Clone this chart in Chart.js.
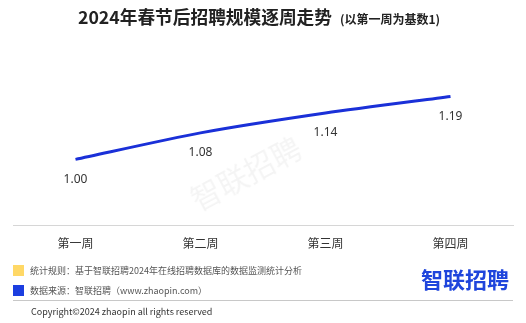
<!DOCTYPE html>
<html>
<head>
<meta charset="utf-8">
<script src="https://cdn.jsdelivr.net/npm/chart.js@4/dist/chart.umd.min.js"></script>
<style>
  html, body { margin: 0; padding: 0; background: #fff; }
  body { width: 526px; height: 323px; position: relative; overflow: hidden;
         font-family: "Noto Sans CJK SC", "Noto Sans", sans-serif; color: #333; }
  #wrap { position: absolute; left: 0; top: 0; width: 526px; height: 323px; }
  .abs { position: absolute; white-space: nowrap; }
  #title { left: 78px; top: 3px; font-size: 17.7px; font-weight: 700; color: #222; }
  #title small { font-size: 12px; font-weight: 700; margin-left: 8px; }
  .sq { position: absolute; width: 11px; height: 11px; }
  .leg { font-size: 9px; color: #555; }
  #logo { left: 421px; top: 262px; font-size: 22px; font-weight: 700; color: #1f45dc; }
  #rule { position: absolute; left: 13px; top: 300px; width: 500px; height: 1px; background: #c8c8c8; }
  #copy { left: 31px; top: 305px; font-size: 9px; color: #333; }
  #wm { left: 192px; top: 178px; font-size: 30px; color: rgba(0,0,0,0.045); transform: rotate(-28deg); transform-origin: left center; }
</style>
</head>
<body>
<div id="wrap"><canvas id="trendChart" width="526" height="323"></canvas></div>
<div class="abs" id="wm">智联招聘</div>
<div class="abs" id="title">2024年春节后招聘规模逐周走势<small>(以第一周为基数1)</small></div>
<div class="sq" style="left:13px;top:265px;background:#ffd866;"></div>
<div class="abs leg" style="left:30px;top:264px;">统计规则：基于智联招聘2024年在线招聘数据库的数据监测统计分析</div>
<div class="sq" style="left:13px;top:285px;background:#1c3ee0;"></div>
<div class="abs leg" style="left:30px;top:284px;">数据来源：智联招聘（www.zhaopin.com）</div>
<div class="abs" id="logo">智联招聘</div>
<div id="rule"></div>
<div class="abs" id="copy">Copyright©2024 zhaopin all rights reserved</div>

<script>
// Données du graphique
const weeks = ['第一周', '第二周', '第三周', '第四周'];
const recruitIndex = [1.00, 1.08, 1.14, 1.19];
const indexLabels = ['1.00', '1.08', '1.14', '1.19'];

// Étiquettes sous chaque point
const pointLabels = {
    id: 'pointLabels',
    afterDatasetsDraw(chart) {
        const ctx = chart.ctx;
        const meta = chart.getDatasetMeta(0);
        ctx.save();
        ctx.font = '12px "Noto Sans", "Noto Sans CJK SC", sans-serif';
        ctx.fillStyle = '#333';
        ctx.textAlign = 'center';
        ctx.textBaseline = 'middle';
        meta.data.forEach((pt, i) => {
            ctx.fillText(indexLabels[i], pt.x, pt.y + 20);
        });
        ctx.restore();
    }
};

const ctx = document.getElementById('trendChart').getContext('2d');
new Chart(ctx, {
    type: 'line',
    data: {
        labels: weeks,
        datasets: [{
            data: recruitIndex,
            borderColor: '#1a30d8',
            borderWidth: 3,
            pointRadius: 0,
            tension: 0.25,
            fill: false
        }]
    },
    options: {
        responsive: false,
        animation: false,
        layout: { padding: { left: 13, right: 13, top: 60, bottom: 61 } },
        plugins: { legend: { display: false }, tooltip: { enabled: false } },
        scales: {
            x: {
                offset: true,
                grid: { display: false, drawTicks: false },
                border: { display: true, color: '#d6d6d6', width: 1 },
                ticks: { color: '#333', padding: 11, font: { size: 12, family: '"Noto Sans CJK SC", sans-serif' } }
            },
            y: {
                display: false,
                min: 0.8,
                max: 1.3
            }
        }
    },
    plugins: [pointLabels]
});
</script>
</body>
</html>
